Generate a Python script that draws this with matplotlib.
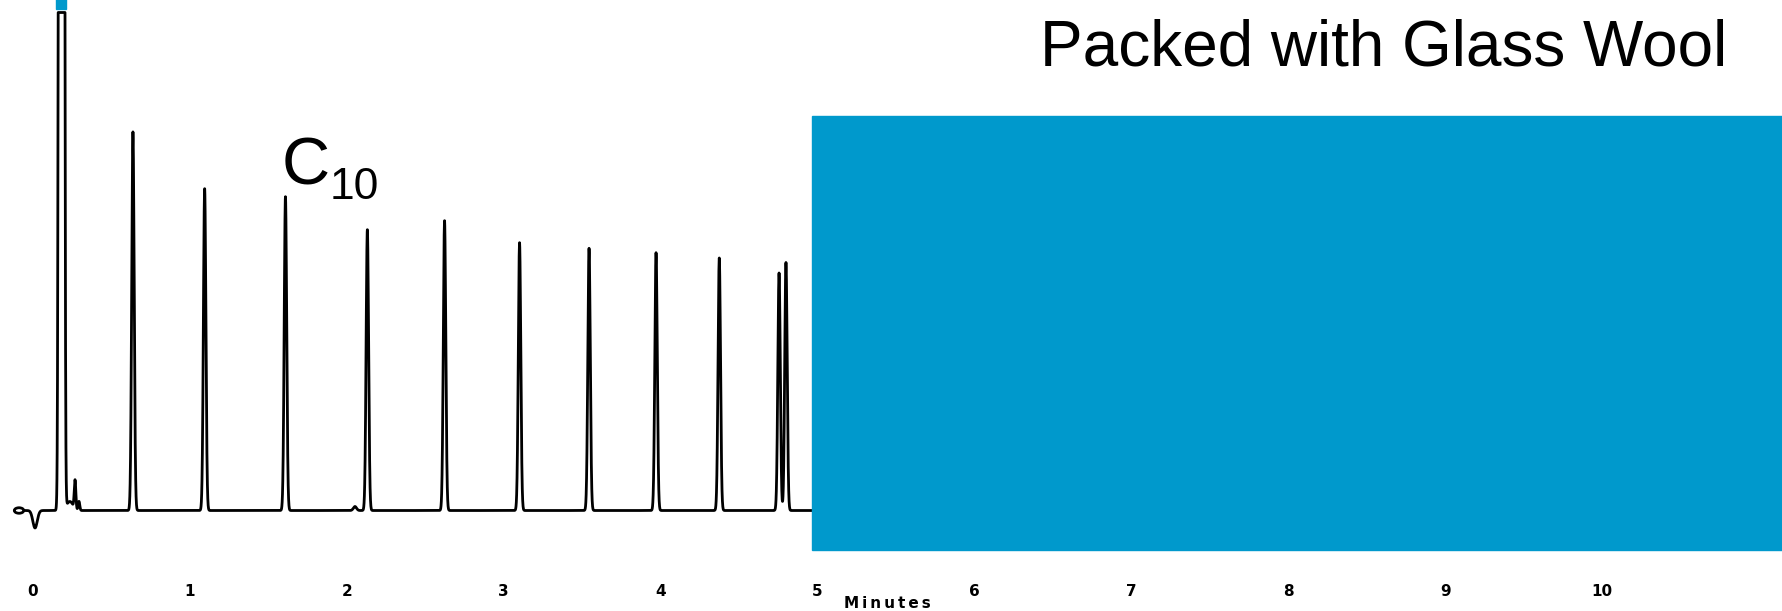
import numpy as np
import matplotlib
matplotlib.use("Agg")
import matplotlib.pyplot as plt
from matplotlib.patches import Ellipse, Rectangle

# peaks: retention time (min), height above baseline, width (min)
peak_times = [0.013, 0.182, 0.235, 0.268, 0.293, 0.637, 1.094, 1.609, 2.052, 2.131,
              2.623, 3.101, 3.544, 3.971, 4.374, 4.755, 4.799]
peak_heights = [-17.5, 20000, 9, 28.5, 9, 378.6, 321.8, 313.8, 4, 280.8,
                289.8, 267.8, 262.2, 257.8, 252.5, 237.5, 248]
peak_widths = [0.014, 0.0082, 0.02, 0.005, 0.005, 0.0078, 0.0078, 0.0078, 0.01, 0.0078,
               0.0078, 0.0078, 0.0078, 0.0078, 0.0078, 0.0078, 0.0078]
pen_limit = 498          # solvent peak runs off the chart paper
trace_start, trace_end = -0.051, 5.2
start_mark_t = -0.089    # the little "o" the recorder pen leaves at the start

c10_index = 7            # which peak carries the C10 label
tick_minutes = list(range(11))
tick_labels = [str(m) for m in tick_minutes]

title = "Packed with Glass Wool"
blue = "#0099cc"

# build the recorder trace
t = np.arange(trace_start, trace_end, 0.0005)
signal = np.zeros_like(t)
for rt, h, w in zip(peak_times, peak_heights, peak_widths):
    signal += h * np.exp(-0.5 * ((t - rt) / w) ** 2)
signal = np.minimum(signal, pen_limit)

fig = plt.figure(figsize=(17.83, 6.11), dpi=100)
ax = fig.add_axes([0, 51 / 611, 1, 560 / 611])
ax.set_xlim((0 - 33) / 156.9, (1783 - 33) / 156.9)
ax.set_ylim(510.5 - 560, 510.5)
for s in ax.spines.values():
    s.set_visible(False)
ax.set_yticks([])

ax.plot(t, signal, color="black", lw=2.0, solid_joinstyle="round")
ax.add_patch(Ellipse((start_mark_t, 0), 0.06, 5.5, fill=False, ec="black", lw=2.0))

ax.set_xticks(tick_minutes)
ax.set_xticklabels(tick_labels, fontsize=11, fontweight="bold", family="DejaVu Sans")
ax.tick_params(axis="x", length=0, pad=17)

# label on the C10 peak
c_t, c_h = peak_times[c10_index], peak_heights[c10_index]
ax.annotate("C", (c_t, c_h), xytext=(-3, 8.5), textcoords="offset points",
            fontsize=48, family="Liberation Sans", ha="left", va="baseline")
ax.annotate("10", (c_t, c_h), xytext=(31.5, -1.7), textcoords="offset points",
            fontsize=32, family="Liberation Sans", ha="left", va="baseline")

# blue block covering the second half of the run, plus the small marker up top
ax.add_patch(Rectangle((812 / 1783, 10 / 560), 1, 434 / 560, transform=ax.transAxes,
                       color=blue, zorder=5, clip_on=False))
ax.add_patch(Rectangle((56 / 1783, 551 / 560), 10 / 1783, 10 / 560, transform=ax.transAxes,
                       color=blue, zorder=5, clip_on=False))

fig.text(1727 / 1783, 1 - 66 / 611, title, ha="right", va="baseline",
         fontsize=46, family="Liberation Sans")
fig.text(887 / 1783, 1 - 604 / 611, "M\u2009i\u2009n\u2009u\u2009t\u2009e\u2009s",
         ha="center", va="center", fontsize=11, fontweight="bold", family="DejaVu Sans")

fig.savefig("out.png", dpi=100)
